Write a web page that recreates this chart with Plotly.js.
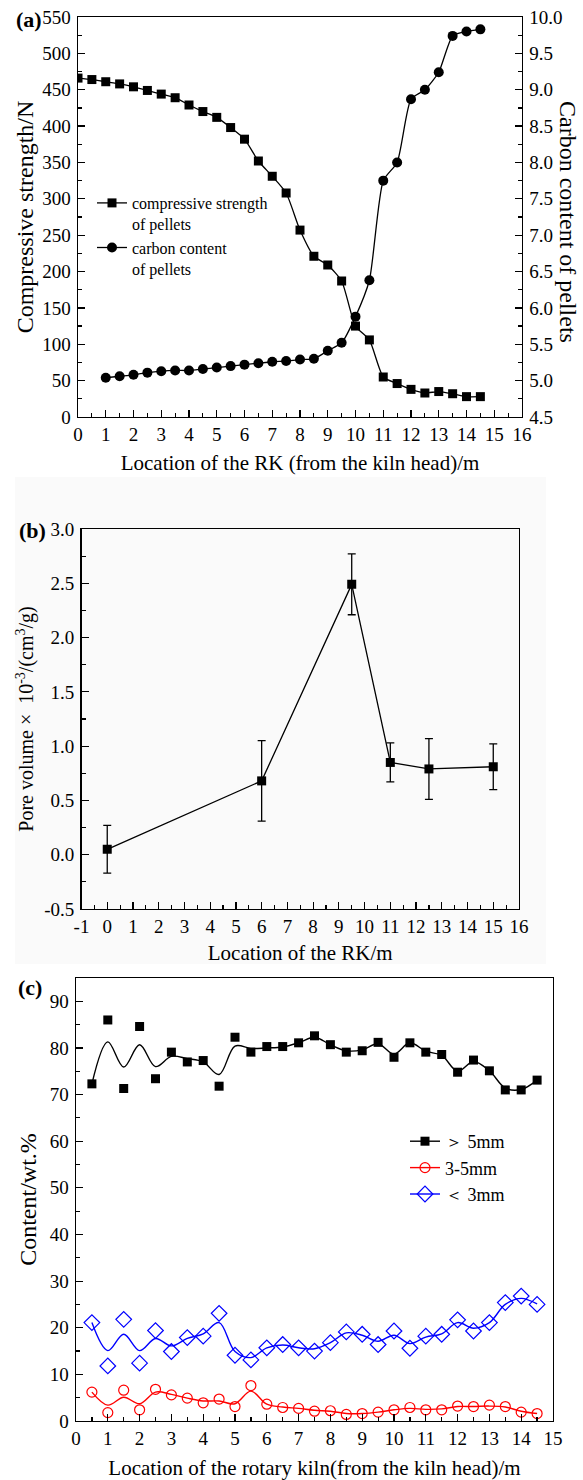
<!DOCTYPE html>
<html>
<head>
<meta charset="utf-8">
<script src="https://cdn.plot.ly/plotly-3.0.1.min.js"></script>
<style>html,body{margin:0;padding:0;background:#fff}#chart{width:583px;height:1480px}</style>
</head>
<body>
<div id="chart"></div>
<script>
// ---------- Panel (a) ----------
const strengthX = [0,0.5,1,1.5,2,2.5,3,3.5,4,4.5,5,5.5,6,6.5,7,7.5,8,8.5,9,9.5,10,10.5,11,11.5,12,12.5,13,13.5,14,14.5];
const strength  = [466,464,461,458,454,449,444,439,429,420,412,398,382,352,331,308,257,221,209,187,125,106,55,46,38,33,35,32,28,28];
const carbonX   = [1,1.5,2,2.5,3,3.5,4,4.5,5,5.5,6,6.5,7,7.5,8,8.5,9,9.5,10,10.5,11,11.5,12,12.5,13,13.5,14,14.5];
const carbon    = [5.04,5.06,5.08,5.11,5.13,5.14,5.14,5.16,5.18,5.20,5.22,5.24,5.26,5.27,5.29,5.30,5.41,5.52,5.88,6.38,7.75,8.00,8.87,9.00,9.24,9.74,9.80,9.83];
const legendA   = ['compressive strength<br>of pellets', 'carbon content<br>of pellets'];

// ---------- Panel (b) ----------
const poreX   = [0, 6, 9.5, 11, 12.5, 15];
const pore    = [0.05, 0.68, 2.49, 0.85, 0.79, 0.81];
const poreErr = [0.22, 0.37, 0.28, 0.18, 0.28, 0.21];
const poreXTicks = [-1,0,1,2,3,4,5,6,7,8,9,10,11,12,13,14,15,16];
const poreXTickText = ['-1','0','1','2','3','4','5','6','7','8','9','10','11','12','13','14','15','16'];
const poreYTicks = [-0.5,0,0.5,1,1.5,2,2.5,3];
const poreYTickText = ['-0.5','0.0','0.5','1.0','1.5','2.0','2.5','3.0'];

// ---------- Panel (c) ----------
const kilnX     = [0.5,1,1.5,2,2.5,3,3.5,4,4.5,5,5.5,6,6.5,7,7.5,8,8.5,9,9.5,10,10.5,11,11.5,12,12.5,13,13.5,14,14.5];
const coarse    = [72.3,86.0,71.3,84.6,73.4,79.1,77.0,77.3,71.8,82.3,79.1,80.3,80.3,81.1,82.6,80.7,79.1,79.4,81.2,78.0,81.1,79.1,78.6,74.8,77.4,75.1,71.0,71.0,73.1];
const coarseFit = [72.3,81.3,75.9,80.7,76.0,78.2,77.7,77.0,74.3,80.4,79.9,80.0,80.2,81.1,82.3,80.7,79.4,79.6,80.9,78.7,81.1,79.3,78.4,75.0,77.1,75.1,71.4,71.1,73.1];
const medium    = [6.2,1.8,6.6,2.4,6.8,5.6,4.9,3.9,4.7,3.1,7.6,3.6,2.9,2.7,2.1,2.2,1.4,1.6,1.9,2.4,2.9,2.4,2.4,3.2,3.1,3.4,3.1,1.9,1.6];
const mediumFit = [6.2,3.4,5.1,3.7,6.2,5.7,4.9,4.3,4.3,3.7,6.4,3.6,3.0,2.7,2.3,2.1,1.6,1.6,1.9,2.4,2.7,2.5,2.6,3.1,3.1,3.2,3.0,2.1,1.6];
const fine      = [21.1,11.8,21.8,12.4,19.4,14.9,17.9,18.2,23.1,14.1,13.1,15.7,16.4,15.7,15.0,16.8,19.1,18.6,16.4,19.3,15.6,18.2,18.6,21.7,19.3,21.1,25.4,26.8,25.0];
const fineFit   = [21.1,15.1,18.6,15.1,17.7,16.1,17.7,18.7,21.1,14.9,13.6,15.7,16.3,15.7,15.5,16.8,18.9,18.4,17.1,18.4,16.6,18.0,18.7,21.1,19.9,21.1,25.0,26.3,25.1];
const legendC   = ['＞ 5mm', '3-5mm', '＜ 3mm'];

const FONT = '"Liberation Serif", "Times New Roman", serif';
const BLACK = '#000000', RED = '#ff0000', BLUE = '#0000ff';
const W = 583, H = 1480;
const px = v => v / W;
const py = v => 1 - v / H;

function minorTicks(extra) {
  return Object.assign({ticks: 'inside', ticklen: 4, tickwidth: 1.2, tickcolor: BLACK, showgrid: false}, extra);
}
function axis(extra) {
  return Object.assign({
    showline: true, linecolor: BLACK, linewidth: 1.4, mirror: true,
    ticks: 'inside', ticklen: 7, tickwidth: 1.2, tickcolor: BLACK,
    showgrid: false, zeroline: false, fixedrange: true,
    tickfont: {family: FONT, size: 19, color: BLACK}
  }, extra);
}

const traces = [
  // panel a
  {x: strengthX, y: strength, xaxis: 'x', yaxis: 'y', mode: 'lines+markers', name: legendA[0], legend: 'legend',
   line: {color: BLACK, width: 1.3, shape: 'spline', smoothing: 0.6},
   marker: {symbol: 'square', size: 9, color: BLACK}},
  {x: carbonX, y: carbon, xaxis: 'x', yaxis: 'y2', mode: 'lines+markers', name: legendA[1], legend: 'legend',
   line: {color: BLACK, width: 1.3, shape: 'spline', smoothing: 0.6},
   marker: {symbol: 'circle', size: 10, color: BLACK}},
  // panel b
  {x: poreX, y: pore, xaxis: 'x2', yaxis: 'y3', mode: 'lines+markers', showlegend: false,
   line: {color: BLACK, width: 1.3},
   marker: {symbol: 'square', size: 9, color: BLACK},
   error_y: {type: 'data', array: poreErr, visible: true, color: BLACK, thickness: 1.3, width: 4}},
  // panel c smoothed curves
  {x: kilnX, y: coarseFit, xaxis: 'x3', yaxis: 'y4', mode: 'lines', showlegend: false,
   line: {color: BLACK, width: 1.4, shape: 'spline', smoothing: 1}},
  {x: kilnX, y: mediumFit, xaxis: 'x3', yaxis: 'y4', mode: 'lines', showlegend: false,
   line: {color: RED, width: 1.4, shape: 'spline', smoothing: 1}},
  {x: kilnX, y: fineFit, xaxis: 'x3', yaxis: 'y4', mode: 'lines', showlegend: false,
   line: {color: BLUE, width: 1.4, shape: 'spline', smoothing: 1}},
  // panel c measured points
  {x: kilnX, y: coarse, xaxis: 'x3', yaxis: 'y4', mode: 'markers', showlegend: false,
   marker: {symbol: 'square', size: 9, color: BLACK}},
  {x: kilnX, y: medium, xaxis: 'x3', yaxis: 'y4', mode: 'markers', showlegend: false,
   marker: {symbol: 'circle-open', size: 10, color: RED, line: {width: 1.2}}},
  {x: kilnX, y: fine, xaxis: 'x3', yaxis: 'y4', mode: 'markers', showlegend: false,
   marker: {symbol: 'diamond-open', size: 12, color: BLUE, line: {width: 1.2}}},
  // panel c legend entries (line + symbol)
  {x: [null], y: [null], xaxis: 'x3', yaxis: 'y4', mode: 'lines+markers', name: legendC[0], legend: 'legend2',
   line: {color: BLACK, width: 1.4}, marker: {symbol: 'square', size: 9, color: BLACK}},
  {x: [null], y: [null], xaxis: 'x3', yaxis: 'y4', mode: 'lines+markers', name: legendC[1], legend: 'legend2',
   line: {color: RED, width: 1.4}, marker: {symbol: 'circle-open', size: 10, color: RED, line: {width: 1.2}}},
  {x: [null], y: [null], xaxis: 'x3', yaxis: 'y4', mode: 'lines+markers', name: legendC[2], legend: 'legend2',
   line: {color: BLUE, width: 1.4}, marker: {symbol: 'diamond-open', size: 12, color: BLUE, line: {width: 1.2}}}
];

const xTitleFont = {family: FONT, size: 21, color: BLACK};
const yTitleFont = {family: FONT, size: 24, color: BLACK};

const layout = {
  width: W, height: H,
  margin: {l: 0, r: 0, t: 0, b: 0},
  paper_bgcolor: '#ffffff', plot_bgcolor: 'rgba(0,0,0,0)',
  font: {family: FONT, size: 18, color: BLACK},
  showlegend: true,
  // panel a
  xaxis: axis({domain: [px(78), px(522)], anchor: 'y', range: [0, 16], dtick: 1, tick0: 0,
    minor: minorTicks({dtick: 0.5}),
    title: {text: 'Location of the RK (from the kiln head)/m', font: xTitleFont, standoff: 11}}),
  yaxis: axis({domain: [py(417), py(17)], anchor: 'x', range: [0, 550], dtick: 50, tick0: 0,
    ticklabelstandoff: 2, minor: minorTicks({dtick: 25}),
    title: {text: 'Compressive strength/N', font: yTitleFont, standoff: 2}}),
  yaxis2: axis({overlaying: 'y', side: 'right', anchor: 'x', range: [4.5, 10], dtick: 0.5, tick0: 4.5,
    tickformat: '.1f', mirror: false, ticklabelstandoff: 2,
    minor: minorTicks({dtick: 0.25})}),
  // panel b
  xaxis2: axis({domain: [px(81.5), px(519)], anchor: 'y3', range: [-1, 16],
    tickmode: 'array', tickvals: poreXTicks, ticktext: poreXTickText,
    minor: minorTicks({tickmode: 'linear', tick0: -1, dtick: 0.5}),
    title: {text: 'Location of the RK/m', font: xTitleFont, standoff: 9}}),
  yaxis3: axis({domain: [py(909), py(529)], anchor: 'x2', range: [-0.5, 3.0],
    tickmode: 'array', tickvals: poreYTicks, ticktext: poreYTickText, ticklabelstandoff: 2,
    minor: minorTicks({tickmode: 'linear', tick0: -0.5, dtick: 0.25}),
    title: {text: 'Pore volume ×  10<sup>-3</sup>/(cm<sup>3</sup>/g)', font: {family: FONT, size: 20, color: BLACK}, standoff: 5}}),
  // panel c
  xaxis3: axis({domain: [px(76), px(553)], anchor: 'y4', range: [0, 15], dtick: 1, tick0: 0,
    minor: minorTicks({dtick: 0.5}),
    title: {text: 'Location of the rotary kiln(from the kiln head)/m', font: xTitleFont, standoff: 12}}),
  yaxis4: axis({domain: [py(1421), py(978)], anchor: 'x3', range: [0, 95], dtick: 10, tick0: 0,
    ticklabelstandoff: 2, minor: minorTicks({dtick: 5}),
    title: {text: 'Content/wt.%', font: yTitleFont, standoff: 6}}),
  legend: {x: px(92), y: py(186), xanchor: 'left', yanchor: 'top', bgcolor: 'rgba(0,0,0,0)',
    font: {family: FONT, size: 16, color: BLACK}, valign: 'top', borderwidth: 0},
  legend2: {x: px(405), y: py(1123), xanchor: 'left', yanchor: 'top', bgcolor: 'rgba(0,0,0,0)',
    font: {family: FONT, size: 18, color: BLACK}, borderwidth: 0},
  shapes: [
    {type: 'rect', xref: 'paper', yref: 'paper', x0: px(15), x1: px(546), y0: py(964), y1: py(477),
     fillcolor: '#fafafa', line: {width: 0}, layer: 'below'}
  ],
  annotations: [
    {text: '<b>(a)</b>', xref: 'paper', yref: 'paper', x: px(29), y: py(19), xanchor: 'center', yanchor: 'middle',
     showarrow: false, font: {family: FONT, size: 22, color: BLACK}},
    {text: '<b>(b)</b>', xref: 'paper', yref: 'paper', x: px(32), y: py(531), xanchor: 'center', yanchor: 'middle',
     showarrow: false, font: {family: FONT, size: 22, color: BLACK}},
    {text: '<b>(c)</b>', xref: 'paper', yref: 'paper', x: px(30), y: py(987), xanchor: 'center', yanchor: 'middle',
     showarrow: false, font: {family: FONT, size: 22, color: BLACK}},
    {text: 'Carbon content of pellets', xref: 'paper', yref: 'paper', x: px(568), y: py(222),
     xanchor: 'center', yanchor: 'middle', showarrow: false, textangle: 90, font: yTitleFont}
  ]
};

Plotly.newPlot('chart', traces, layout, {displayModeBar: false, staticPlot: true});
</script>
</body>
</html>
